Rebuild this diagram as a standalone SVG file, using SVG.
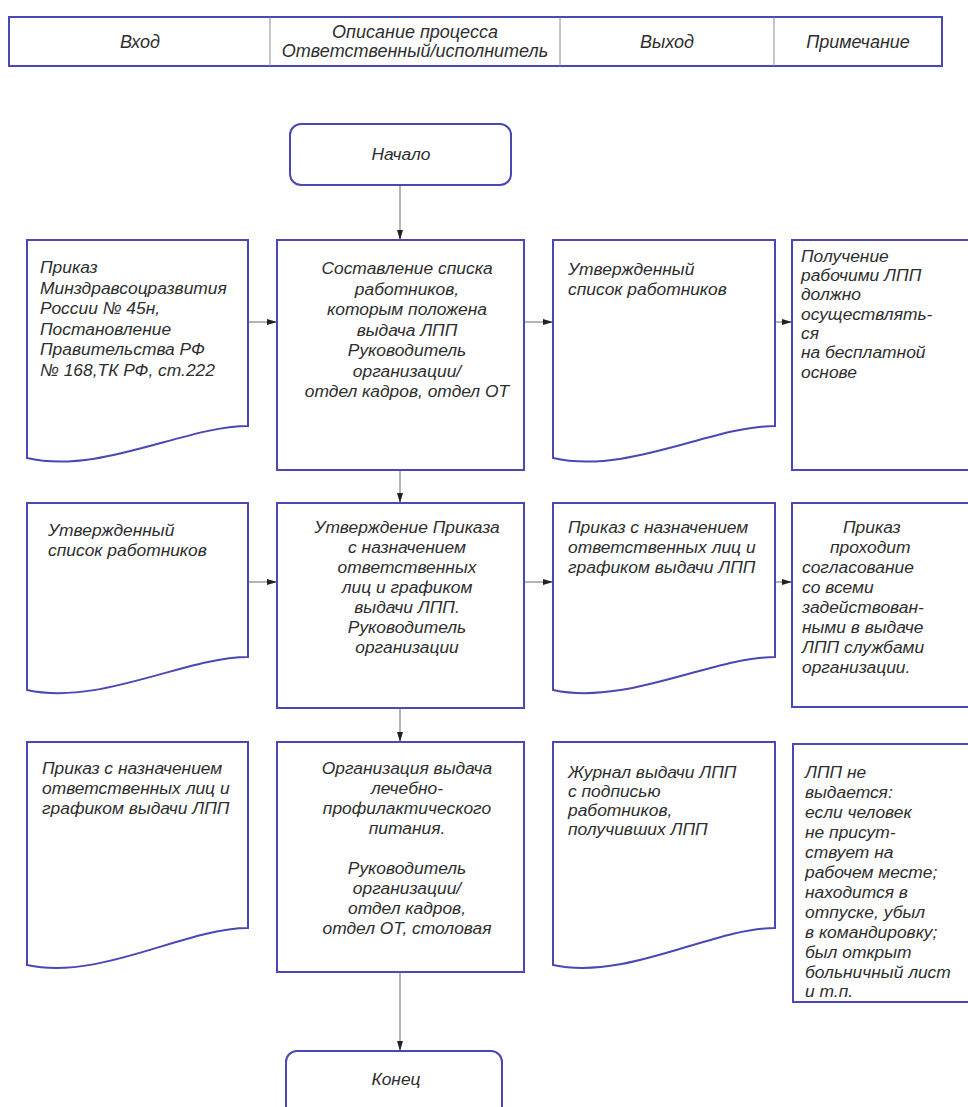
<svg xmlns="http://www.w3.org/2000/svg" width="968" height="1107" viewBox="0 0 968 1107">
<defs>
<style>
.box{fill:#fff;stroke:#4a48b4;stroke-width:2}
.hdr{fill:none;stroke:#4a48b4;stroke-width:2}
.div{stroke:#8a8a8a;stroke-width:1}
.t{font-family:"Liberation Sans","DejaVu Sans",sans-serif;font-style:italic;font-size:17.4px;fill:#2e2e2e}
.h{font-size:18px}
.c{text-anchor:middle}
.con{stroke:#6a6a6a;stroke-width:1;fill:none;marker-end:url(#ah)}
</style>
<marker id="ah" viewBox="0 0 10 6" refX="10" refY="3" markerWidth="10" markerHeight="6" markerUnits="userSpaceOnUse" orient="auto">
<path d="M0,0 L10,3 L0,6 Z" fill="#222"/>
</marker>
</defs>
<rect width="968" height="1107" fill="#fff"/>

<g id="header">
<rect class="hdr" x="9" y="17" width="933" height="49"/>
<line class="div" x1="270" y1="17" x2="270" y2="66"/>
<line class="div" x1="560" y1="17" x2="560" y2="66"/>
<line class="div" x1="774" y1="17" x2="774" y2="66"/>
<text class="t h c" x="140" y="48">Вход</text>
<text class="t h c" x="415" y="38">Описание процесса</text>
<text class="t h c" x="415" y="57">Ответственный/исполнитель</text>
<text class="t h c" x="667" y="48">Выход</text>
<text class="t h c" x="858" y="48">Примечание</text>
</g>

<g id="connectors">
<line class="con" x1="400" y1="185" x2="400" y2="240"/>
<line class="con" x1="248" y1="322" x2="277" y2="322"/>
<line class="con" x1="524" y1="322" x2="553" y2="322"/>
<line class="con" x1="775" y1="322" x2="792" y2="322"/>
<line class="con" x1="400" y1="470" x2="400" y2="503"/>
<line class="con" x1="248" y1="582" x2="277" y2="582"/>
<line class="con" x1="524" y1="582" x2="553" y2="582"/>
<line class="con" x1="775" y1="582" x2="792" y2="582"/>
<line class="con" x1="400" y1="708" x2="400" y2="742"/>
<line class="con" x1="400" y1="972" x2="400" y2="1051"/>
</g>

<g id="start">
<rect class="box" x="290" y="124" width="221" height="61" rx="11"/>
<text class="t c" x="401" y="160">Начало</text>
</g>

<g id="in1">
<path class="box" d="M27,240 H248 V426 C185,426 100,475 27,458 Z"/>
<text class="t"><tspan x="40" y="273">Приказ</tspan><tspan x="40" y="293.5">Минздравсоцразвития</tspan><tspan x="40" y="314">России № 45н,</tspan><tspan x="40" y="334.5">Постановление</tspan><tspan x="40" y="355">Правительства РФ</tspan><tspan x="40" y="375.5">№ 168,ТК РФ, ст.222</tspan></text>
</g>

<g id="proc1">
<rect class="box" x="277" y="240" width="247" height="230"/>
<text class="t c"><tspan x="407" y="274">Составление списка</tspan><tspan x="407" y="294.5">работников,</tspan><tspan x="407" y="315">которым положена</tspan><tspan x="407" y="335.5">выдача ЛПП</tspan><tspan x="407" y="356">Руководитель</tspan><tspan x="407" y="376.5">организации/</tspan><tspan x="407" y="397">отдел кадров, отдел ОТ</tspan></text>
</g>

<g id="out1">
<path class="box" d="M553,240 H775 V426 C712,426 627,475 553,458 Z"/>
<text class="t"><tspan x="568" y="275">Утвержденный</tspan><tspan x="568" y="295">список работников</tspan></text>
</g>

<g id="note1">
<rect class="box" x="792" y="240" width="190" height="230"/>
<text class="t"><tspan x="801" y="262">Получение</tspan><tspan x="801" y="281">рабочими ЛПП</tspan><tspan x="801" y="300">должно</tspan><tspan x="801" y="320">осуществлять-</tspan><tspan x="801" y="339">ся</tspan><tspan x="801" y="358">на бесплатной</tspan><tspan x="801" y="378">основе</tspan></text>
</g>

<g id="in2">
<path class="box" d="M27,503 H248 V657 C185,657 100,706 27,690 Z"/>
<text class="t"><tspan x="48" y="536">Утвержденный</tspan><tspan x="48" y="556">список работников</tspan></text>
</g>

<g id="proc2">
<rect class="box" x="277" y="503" width="247" height="205"/>
<text class="t c"><tspan x="407" y="533">Утверждение Приказа</tspan><tspan x="407" y="553">с назначением</tspan><tspan x="407" y="573">ответственных</tspan><tspan x="407" y="593">лиц и графиком</tspan><tspan x="407" y="613">выдачи ЛПП.</tspan><tspan x="407" y="633">Руководитель</tspan><tspan x="407" y="653">организации</tspan></text>
</g>

<g id="out2">
<path class="box" d="M553,503 H775 V657 C712,657 627,706 553,690 Z"/>
<text class="t"><tspan x="568" y="533">Приказ с назначением</tspan><tspan x="568" y="553">ответственных лиц и</tspan><tspan x="568" y="573">графиком выдачи ЛПП</tspan></text>
</g>

<g id="note2">
<rect class="box" x="792" y="503" width="190" height="204"/>
<text class="t"><tspan x="843" y="533">Приказ</tspan><tspan x="830" y="553">проходит</tspan><tspan x="802" y="573">согласование</tspan><tspan x="802" y="593">со всеми</tspan><tspan x="802" y="613">задействован-</tspan><tspan x="802" y="633">ными в выдаче</tspan><tspan x="802" y="653">ЛПП службами</tspan><tspan x="802" y="673">организации.</tspan></text>
</g>

<g id="in3">
<path class="box" d="M27,742 H248 V928 C185,928 100,981 27,965 Z"/>
<text class="t"><tspan x="42" y="774">Приказ с назначением</tspan><tspan x="42" y="794">ответственных лиц и</tspan><tspan x="42" y="814">графиком выдачи ЛПП</tspan></text>
</g>

<g id="proc3">
<rect class="box" x="277" y="742" width="247" height="230"/>
<text class="t c"><tspan x="407" y="774">Организация выдача</tspan><tspan x="407" y="794">лечебно-</tspan><tspan x="407" y="814">профилактического</tspan><tspan x="407" y="834">питания.</tspan><tspan x="407" y="874">Руководитель</tspan><tspan x="407" y="894">организации/</tspan><tspan x="407" y="914">отдел кадров,</tspan><tspan x="407" y="934">отдел ОТ, столовая</tspan></text>
</g>

<g id="out3">
<path class="box" d="M553,742 H775 V928 C712,928 627,981 553,965 Z"/>
<text class="t"><tspan x="568" y="778">Журнал выдачи ЛПП</tspan><tspan x="568" y="797">с подписью</tspan><tspan x="568" y="816">работников,</tspan><tspan x="568" y="835">получивших ЛПП</tspan></text>
</g>

<g id="note3">
<rect class="box" x="793" y="744" width="190" height="258"/>
<text class="t"><tspan x="805" y="778">ЛПП не</tspan><tspan x="805" y="798">выдается:</tspan><tspan x="805" y="818">если человек</tspan><tspan x="805" y="838">не присут-</tspan><tspan x="805" y="858">ствует на</tspan><tspan x="805" y="878">рабочем месте;</tspan><tspan x="805" y="898">находится в</tspan><tspan x="805" y="918">отпуске, убыл</tspan><tspan x="805" y="938">в командировку;</tspan><tspan x="805" y="958">был открыт</tspan><tspan x="805" y="978">больничный лист</tspan><tspan x="805" y="997">и т.п.</tspan></text>
</g>

<g id="end">
<rect class="box" x="286" y="1051" width="216" height="70" rx="11"/>
<text class="t c" x="396" y="1085">Конец</text>
</g>
</svg>
